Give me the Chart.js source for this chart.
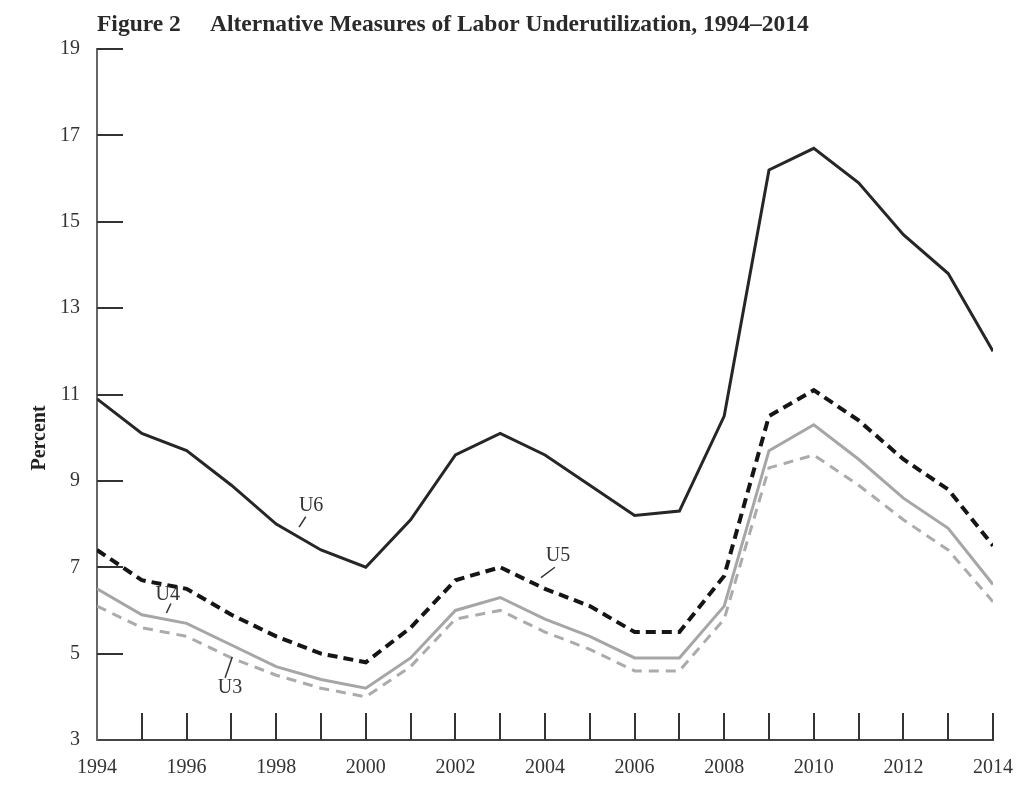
<!DOCTYPE html>
<html>
<head>
<meta charset="utf-8">
<script src="https://cdn.jsdelivr.net/npm/chart.js@4/dist/chart.umd.min.js"></script>
<style>
  html, body { margin: 0; padding: 0; background: #ffffff; }
  #wrap { width: 1025px; height: 804px; position: relative; }
</style>
</head>
<body>
<div id="wrap"><canvas id="c" width="1025" height="804"></canvas></div>
<script>
// ---- Data ----
const years = [1994,1995,1996,1997,1998,1999,2000,2001,2002,2003,2004,2005,2006,2007,2008,2009,2010,2011,2012,2013,2014];
const u6 = [10.9,10.1,9.7,8.9,8.0,7.4,7.0,8.1,9.6,10.1,9.6,8.9,8.2,8.3,10.5,16.2,16.7,15.9,14.7,13.8,12.0];
const u5 = [7.4,6.7,6.5,5.9,5.4,5.0,4.8,5.6,6.7,7.0,6.5,6.1,5.5,5.5,6.8,10.5,11.1,10.4,9.5,8.8,7.5];
const u4 = [6.5,5.9,5.7,5.2,4.7,4.4,4.2,4.9,6.0,6.3,5.8,5.4,4.9,4.9,6.1,9.7,10.3,9.5,8.6,7.9,6.6];
const u3 = [6.1,5.6,5.4,4.9,4.5,4.2,4.0,4.7,5.8,6.0,5.5,5.1,4.6,4.6,5.8,9.3,9.6,8.9,8.1,7.4,6.2];
const yTicks = [3,5,7,9,11,13,15,17,19];
const xLabelYears = [1994,1996,1998,2000,2002,2004,2006,2008,2010,2012,2014];
const seriesNames = ['U6','U5','U4','U3'];
const titleLeft = 'Figure 2';
const titleRight = 'Alternative Measures of Labor Underutilization, 1994\u20132014';
const yAxisTitle = 'Percent';

// label anchors in data coordinates (text center, leader start, leader end)
const labelAnchors = {
  U6: { text: [1998.78, 8.42], lead: [[1998.51, 7.93], [1998.66, 8.17]] },
  U5: { text: [2004.29, 7.26], lead: [[2003.91, 6.76], [2004.22, 7.0]] },
  U4: { text: [1995.58, 6.36], lead: [[1995.55, 5.94], [1995.65, 6.16]] },
  U3: { text: [1996.97, 4.20], lead: [[1996.86, 4.44], [1997.02, 4.92]] }
};

const SERIF = '"Liberation Serif", "DejaVu Serif", serif';
const toXY = arr => arr.map((v, i) => ({ x: years[i], y: v }));

const decorPlugin = {
  id: 'decor',
  afterDraw(chart) {
    const ctx = chart.ctx;
    const xs = chart.scales.x, ys = chart.scales.y;
    const ca = chart.chartArea;
    ctx.save();
    // inward tick marks
    ctx.strokeStyle = '#333';
    ctx.lineWidth = 2;
    ctx.beginPath();
    yTicks.forEach(v => {
      if (v === yTicks[0]) return;
      const py = Math.round(ys.getPixelForValue(v));
      ctx.moveTo(ca.left, py);
      ctx.lineTo(ca.left + 26, py);
    });
    years.forEach(yr => {
      if (yr === years[0]) return;
      const px = Math.round(xs.getPixelForValue(yr));
      ctx.moveTo(px, ca.bottom);
      ctx.lineTo(px, ca.bottom - 27);
    });
    ctx.stroke();

    // title
    ctx.fillStyle = '#2a2a2a';
    ctx.font = 'bold 23.5px ' + SERIF;
    ctx.textAlign = 'left';
    ctx.textBaseline = 'alphabetic';
    ctx.fillText(titleLeft, 97, 31);
    ctx.fillText(titleRight, 210, 31);

    // y-axis title
    ctx.save();
    ctx.translate(40, 438);
    ctx.rotate(-Math.PI / 2);
    ctx.textAlign = 'center';
    ctx.textBaseline = 'middle';
    ctx.font = 'bold 20px ' + SERIF;
    ctx.fillStyle = '#222';
    ctx.fillText(yAxisTitle, 0, 0);
    ctx.restore();

    // series labels with leader lines
    ctx.font = '20px ' + SERIF;
    ctx.fillStyle = '#333';
    ctx.strokeStyle = '#333';
    ctx.lineWidth = 1.5;
    ctx.textAlign = 'center';
    ctx.textBaseline = 'middle';
    seriesNames.forEach(name => {
      const a = labelAnchors[name];
      const tx = xs.getPixelForValue(a.text[0]);
      const ty = ys.getPixelForValue(a.text[1]);
      ctx.fillText(name, tx, ty);
      ctx.beginPath();
      ctx.moveTo(xs.getPixelForValue(a.lead[0][0]), ys.getPixelForValue(a.lead[0][1]));
      ctx.lineTo(xs.getPixelForValue(a.lead[1][0]), ys.getPixelForValue(a.lead[1][1]));
      ctx.stroke();
    });
    ctx.restore();
  }
};

new Chart(document.getElementById('c'), {
  type: 'line',
  data: {
    datasets: [
      { label: seriesNames[0], data: toXY(u6), borderColor: '#262626', borderWidth: 3, pointRadius: 0, tension: 0 },
      { label: seriesNames[1], data: toXY(u5), borderColor: '#151515', borderWidth: 4, borderDash: [10, 6], pointRadius: 0, tension: 0 },
      { label: seriesNames[2], data: toXY(u4), borderColor: '#a6a6a6', borderWidth: 3, pointRadius: 0, tension: 0 },
      { label: seriesNames[3], data: toXY(u3), borderColor: '#ababab', borderWidth: 3, borderDash: [10, 7], pointRadius: 0, tension: 0 }
    ]
  },
  options: {
    responsive: false,
    animation: false,
    devicePixelRatio: 1,
    layout: { padding: { top: 49, right: 32, bottom: 0, left: 0 } },
    plugins: { legend: { display: false }, tooltip: { enabled: false }, title: { display: false } },
    scales: {
      x: {
        type: 'linear',
        min: years[0],
        max: years[years.length - 1],
        afterFit: s => { s.height = 64; s.paddingLeft = 0; s.paddingRight = 0; },
        afterBuildTicks: s => { s.ticks = xLabelYears.map(v => ({ value: v })); },
        grid: { display: false, drawTicks: false },
        border: { display: true, color: '#444', width: 2 },
        ticks: {
          autoSkip: false, maxRotation: 0, padding: 16,
          color: '#333', font: { family: SERIF, size: 20 },
          callback: v => String(v)
        }
      },
      y: {
        min: yTicks[0],
        max: yTicks[yTicks.length - 1],
        afterFit: s => { s.width = 97; s.paddingTop = 0; s.paddingBottom = 0; },
        afterBuildTicks: s => { s.ticks = yTicks.map(v => ({ value: v })); },
        grid: { display: false, drawTicks: false },
        border: { display: true, color: '#666', width: 2 },
        ticks: {
          padding: 17, color: '#333', font: { family: SERIF, size: 20 },
          callback: v => String(v)
        }
      }
    }
  },
  plugins: [decorPlugin]
});
</script>
</body>
</html>
